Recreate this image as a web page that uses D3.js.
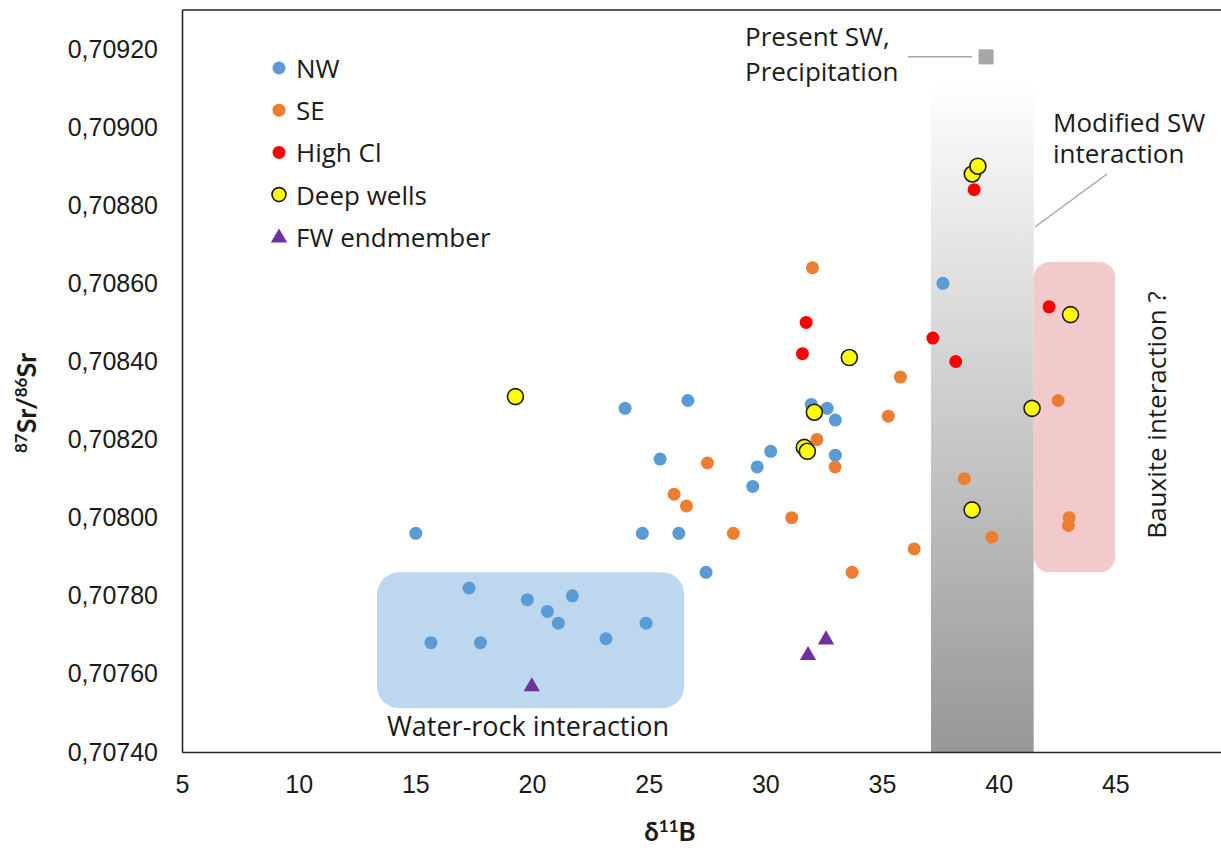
<!DOCTYPE html>
<html>
<head>
<meta charset="utf-8">
<script src="https://cdn.jsdelivr.net/npm/d3@7/dist/d3.min.js"></script>
<style>
  html, body { margin: 0; padding: 0; background: #fff; }
  svg { display: block; }
</style>
</head>
<body>
<svg id="chart" width="1221" height="850"></svg>
<script>
// δ11B (x) vs 87Sr/86Sr (y) for each sample group
const nwPoints = [
  [15.02, 0.70796], [17.30, 0.70782], [15.67, 0.70768], [17.79, 0.70768],
  [19.80, 0.70779], [20.66, 0.70776], [21.13, 0.70773], [21.73, 0.70780],
  [23.17, 0.70769], [24.89, 0.70773], [24.73, 0.70796], [26.29, 0.70796],
  [27.46, 0.70786], [23.99, 0.70828], [26.68, 0.70830], [31.97, 0.70829],
  [32.65, 0.70828], [33.00, 0.70825], [33.00, 0.70816], [30.23, 0.70817],
  [29.65, 0.70813], [29.46, 0.70808], [25.49, 0.70815], [37.61, 0.70860]
];
const sePoints = [
  [32.02, 0.70864], [35.79, 0.70836], [35.27, 0.70826], [32.21, 0.70820],
  [32.99, 0.70813], [26.09, 0.70806], [26.62, 0.70803], [27.52, 0.70814],
  [28.63, 0.70796], [31.13, 0.70800], [33.72, 0.70786], [36.38, 0.70792],
  [38.53, 0.70810], [39.71, 0.70795], [42.55, 0.70830], [43.02, 0.70800],
  [42.99, 0.70798]
];
const highClPoints = [
  [31.75, 0.70850], [31.59, 0.70842], [37.18, 0.70846], [38.16, 0.70840],
  [42.16, 0.70854], [38.95, 0.70884]
];
const deepWellPoints = [
  [19.29, 0.70831], [33.60, 0.70841], [32.10, 0.70827], [31.80, 0.70817],
  [31.67, 0.70818], [39.11, 0.70890], [38.87, 0.70888], [43.08, 0.70852],
  [41.43, 0.70828], [38.86, 0.70802]
];
const fwPoints = [[19.99, 0.70757], [31.83, 0.70765], [32.60, 0.70769]];
const presentSW = [39.46, 0.70918];

// Interpretation fields: [x0, x1, y0, y1]
const modifiedSWBand = [37.1, 41.5, 0.70740, 0.70912];
const bauxiteField = [41.5, 45.0, 0.70786, 0.708655];
const waterRockField = [13.36, 26.52, 0.707512, 0.70786];

const xTicks = [5, 10, 15, 20, 25, 30, 35, 40, 45];
const yTicks = [0.7074, 0.7076, 0.7078, 0.7080, 0.7082, 0.7084, 0.7086, 0.7088, 0.7090, 0.7092];

const legendItems = [
  { label: "NW", kind: "nw" },
  { label: "SE", kind: "se" },
  { label: "High Cl", kind: "cl" },
  { label: "Deep wells", kind: "deep" },
  { label: "FW endmember", kind: "fw" }
];

const colors = { nw: "#5b9bd5", se: "#ed7d31", cl: "#ff0000", deep: "#ffff00", fw: "#7030a0" };

const svg = d3.select("#chart");
const margin = { left: 182, top: 10, bottom: 752 };

const x = d3.scaleLinear().domain([5, 50]).range([182, 1232]);
const y = d3.scaleLinear().domain([0.7074, 0.7093]).range([752, 10]);

const defs = svg.append("defs");
const grad = defs.append("linearGradient")
  .attr("id", "swGrad").attr("x1", 0).attr("y1", 0).attr("x2", 0).attr("y2", 1);
grad.append("stop").attr("offset", "0").attr("stop-color", "#ffffff");
grad.append("stop").attr("offset", "0.08").attr("stop-color", "#f6f6f6");
grad.append("stop").attr("offset", "1").attr("stop-color", "#979797");

// Fields
svg.append("rect")
  .attr("x", x(modifiedSWBand[0])).attr("width", x(modifiedSWBand[1]) - x(modifiedSWBand[0]))
  .attr("y", y(modifiedSWBand[3])).attr("height", y(modifiedSWBand[2]) - y(modifiedSWBand[3]))
  .attr("fill", "url(#swGrad)");

svg.append("rect")
  .attr("x", x(bauxiteField[0])).attr("width", x(bauxiteField[1]) - x(bauxiteField[0]))
  .attr("y", y(bauxiteField[3])).attr("height", y(bauxiteField[2]) - y(bauxiteField[3]))
  .attr("rx", 16).attr("ry", 16)
  .attr("fill", "#f2cacb");

svg.append("rect")
  .attr("x", x(waterRockField[0])).attr("width", x(waterRockField[1]) - x(waterRockField[0]))
  .attr("y", y(waterRockField[3])).attr("height", y(waterRockField[2]) - y(waterRockField[3]))
  .attr("rx", 22).attr("ry", 22)
  .attr("fill", "#bdd7ee");

// Axes
const fmtY = v => d3.format(".5f")(v).replace(".", ",");
const xAxis = svg.append("g")
  .attr("transform", `translate(0,${margin.bottom})`)
  .call(d3.axisBottom(x).tickValues(xTicks).tickSize(0).tickSizeOuter(0).tickPadding(23).tickFormat(d3.format("d")));
const yAxis = svg.append("g")
  .attr("transform", `translate(${margin.left},0)`)
  .call(d3.axisLeft(y).tickValues(yTicks).tickSize(0).tickSizeOuter(0).tickPadding(24).tickFormat(fmtY));

[xAxis, yAxis].forEach(g => {
  g.selectAll("text")
    .attr("font-family", "'Liberation Sans', Arial, sans-serif")
    .attr("font-size", 25).attr("fill", "#1a1a1a");
  g.select(".domain").attr("stroke", "#262626").attr("stroke-width", 1.6);
});

svg.append("line")
  .attr("x1", margin.left).attr("x2", 1221)
  .attr("y1", margin.top).attr("y2", margin.top)
  .attr("stroke", "#262626").attr("stroke-width", 1.6);

// Axis titles
svg.append("text")
  .attr("x", 670).attr("y", 841)
  .attr("text-anchor", "middle")
  .attr("font-family", "Lato, 'Open Sans', sans-serif")
  .attr("font-weight", 700).attr("font-size", 26).attr("fill", "#1a1a1a")
  .call(t => {
    t.append("tspan").text("δ");
    t.append("tspan").attr("font-size", 17).attr("dy", -9).text("11");
    t.append("tspan").attr("dy", 9).text("B");
  });

svg.append("text")
  .attr("transform", "translate(36,403) rotate(-90)")
  .attr("text-anchor", "middle")
  .attr("font-family", "Lato, 'Open Sans', sans-serif")
  .attr("font-weight", 700).attr("font-size", 27).attr("fill", "#1a1a1a")
  .call(t => {
    t.append("tspan").attr("font-size", 17).attr("dy", -9).text("87");
    t.append("tspan").attr("dy", 9).text("Sr/");
    t.append("tspan").attr("font-size", 17).attr("dy", -9).text("86");
    t.append("tspan").attr("dy", 9).text("Sr");
  });

// Leader lines
svg.append("line")
  .attr("x1", 908).attr("y1", y(presentSW[1])).attr("x2", 972).attr("y2", y(presentSW[1]))
  .attr("stroke", "#a6a6a6").attr("stroke-width", 1.5);
svg.append("line")
  .attr("x1", 1107).attr("y1", 174).attr("x2", 1035).attr("y2", 227)
  .attr("stroke", "#a6a6a6").attr("stroke-width", 1.5);

// Present seawater
svg.append("rect")
  .attr("x", x(presentSW[0]) - 7.5).attr("y", y(presentSW[1]) - 7.5)
  .attr("width", 15).attr("height", 15)
  .attr("fill", "#a6a6a6");

// Data points
const tri = d3.symbol().type(d3.symbolTriangle).size(115);

function dots(data, fill, r, stroke) {
  svg.append("g").selectAll("circle").data(data).join("circle")
    .attr("cx", d => x(d[0])).attr("cy", d => y(d[1]))
    .attr("r", r).attr("fill", fill)
    .attr("stroke", stroke || "none").attr("stroke-width", stroke ? 1.6 : 0);
}
dots(nwPoints, colors.nw, 6.5);
dots(sePoints, colors.se, 6.5);
dots(highClPoints, colors.cl, 6.5);
svg.append("g").selectAll("path").data(fwPoints).join("path")
  .attr("transform", d => `translate(${x(d[0])},${y(d[1]) + 1})`)
  .attr("d", tri).attr("fill", colors.fw);
dots(deepWellPoints.slice().reverse(), colors.deep, 8, "#1a1a1a");

// Annotations
const annFont = "'Open Sans', 'DejaVu Sans', sans-serif";
function ann(lines, xPos, yPos, lh, anchor, transform, size) {
  const g = svg.append("g");
  if (transform) g.attr("transform", transform);
  lines.forEach((l, i) => g.append("text")
    .attr("font-family", annFont).attr("font-size", size || 26).attr("fill", "#1a1a1a")
    .attr("text-anchor", anchor || "start")
    .attr("x", xPos).attr("y", yPos + i * lh).text(l));
}
ann(["Present SW,", "Precipitation"], 745, 46, 35);
ann(["Modified SW", "interaction"], 1053, 132, 31);
ann(["Water-rock interaction"], 528, 736, 0, "middle", null, 27);
ann(["Bauxite interaction ?"], 0, 0, 0, "middle", "translate(1166,415) rotate(-90)");

// Legend
const legend = svg.append("g");
legendItems.forEach((item, i) => {
  const cy = 68 + i * 42.2;
  if (item.kind === "fw") {
    legend.append("path").attr("transform", `translate(279,${cy + 1})`)
      .attr("d", tri).attr("fill", colors.fw);
  } else if (item.kind === "deep") {
    legend.append("circle").attr("cx", 279).attr("cy", cy).attr("r", 7)
      .attr("fill", colors.deep).attr("stroke", "#1a1a1a").attr("stroke-width", 1.6);
  } else {
    legend.append("circle").attr("cx", 279).attr("cy", cy).attr("r", 6.5)
      .attr("fill", colors[item.kind]);
  }
  legend.append("text").attr("x", 296).attr("y", cy)
    .attr("dominant-baseline", "central")
    .attr("font-family", annFont).attr("font-size", 26).attr("fill", "#1a1a1a")
    .text(item.label);
});
</script>
</body>
</html>
